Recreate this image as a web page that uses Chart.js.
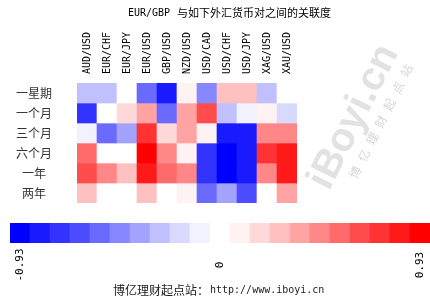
<!DOCTYPE html>
<html lang="zh">
  <head>
    <meta charset="UTF-8" />
    <title>EUR/GBP 关联度</title>
    <script src="https://cdn.jsdelivr.net/npm/chart.js"></script>
    <style>
      body { margin: 0; background: #fff; }
      #wrap { position: relative; width: 430px; height: 300px; overflow: hidden; }
      #heat { position: absolute; left: 0; top: 0; }
      #bar { position: absolute; left: 0; top: 220px; }
    </style>
  </head>
  <body>
    <div id="wrap">
      <canvas id="heat" width="430" height="220"></canvas>
      <canvas id="bar" width="430" height="80"></canvas>
    </div>
    <script>
      // 标题和货币对
      var titleText = "EUR/GBP 与如下外汇货币对之间的关联度";
      var pairs = ["AUD/USD", "EUR/CHF", "EUR/JPY", "EUR/USD", "GBP/USD", "NZD/USD",
                   "USD/CAD", "USD/CHF", "USD/JPY", "XAG/USD", "XAU/USD"];
      var periods = ["一星期", "一个月", "三个月", "六个月", "一年", "两年"];

      // 各期间的相关系数
      var week1  = [-0.27, -0.27, 0, -0.53, -0.80, 0.09, -0.44, 0.27, 0.27, -0.27, 0];
      var month1 = [-0.71, 0, 0.18, 0.35, -0.53, 0.35, 0.62, -0.27, -0.09, 0.09, -0.18];
      var month3 = [-0.09, -0.53, -0.35, 0.71, 0.18, 0.35, 0.09, -0.80, -0.80, 0.44, 0.44];
      var month6 = [0.53, 0, 0, 0.93, 0.44, 0.09, -0.71, -0.93, -0.80, 0.71, 0.80];
      var year1  = [0.62, 0.44, 0.27, 0.80, 0.53, 0.44, -0.71, -0.93, -0.80, 0.44, 0.80];
      var year2  = [0.27, 0, 0, 0.27, 0, 0.09, -0.53, -0.35, -0.62, 0, 0.35];
      var rows = [week1, month1, month3, month6, year1, year2];

      // 色标
      var scaleMin = -0.93;
      var scaleMax = 0.93;
      var colorTicks = ["-0.93", "0", "0.93"];
      var palette = [
        "#0000FF", "#1A1AFF", "#3333FF", "#4D4DFF", "#6A6AFF", "#8787FF", "#A3A3FF",
        "#C0C0FF", "#D9D9FF", "#F2F2FF", "#FFFFFF", "#FFF2F2", "#FFD9D9", "#FFC0C0",
        "#FFA3A3", "#FF8787", "#FF6A6A", "#FF4D4D", "#FF3333", "#FF1A1A", "#FF0000"
      ];

      function levelOf(v) {
        var n = palette.length;
        var i = Math.floor((v - scaleMin) / (scaleMax - scaleMin) * n);
        return Math.max(0, Math.min(n - 1, i));
      }

      var cjk = '"Noto Sans CJK SC", sans-serif';
      var mono = '"DejaVu Sans Mono", monospace';

      // 文字、水印
      var heatText = {
        id: "heatText",
        beforeDatasetsDraw: function (chart) {
          var ctx = chart.ctx;
          ctx.save();
          // 水印
          ctx.translate(354, 117);
          ctx.rotate(-63.4 * Math.PI / 180);
          ctx.fillStyle = "#e2e2e2";
          ctx.font = 'bold 40px "Liberation Sans", sans-serif';
          ctx.textAlign = "center";
          ctx.textBaseline = "middle";
          ctx.fillText("iBoyi.cn", 0, 0);
          ctx.font = "12px " + cjk;
          ctx.fillStyle = "#d6d6d6";
          var wm = "博亿理财起点站";
          for (var k = 0; k < wm.length; k++) {
            ctx.fillText(wm[k], (k - 3) * 19 + 8, 26);
          }
          ctx.restore();
        },
        afterDraw: function (chart) {
          var ctx = chart.ctx;
          var xs = chart.scales.x;
          var ys = chart.scales.y;
          ctx.save();
          // 标题
          ctx.fillStyle = "#000";
          ctx.textBaseline = "middle";
          ctx.textAlign = "left";
          ctx.font = "10px " + mono;
          ctx.fillText("EUR/GBP", 128, 13);
          ctx.font = "11px " + cjk;
          ctx.fillText(titleText.slice(8), 177, 13);
          // 列标签
          ctx.font = "10px " + mono;
          pairs.forEach(function (p, i) {
            ctx.save();
            ctx.translate(xs.getPixelForValue(i), 74);
            ctx.rotate(-Math.PI / 2);
            ctx.textAlign = "left";
            ctx.textBaseline = "middle";
            ctx.fillText(p, 0, 0);
            ctx.restore();
          });
          // 行标签
          ctx.fillStyle = "#333";
          ctx.font = "12px " + cjk;
          ctx.textAlign = "center";
          periods.forEach(function (p, r) {
            ctx.fillText(p, 34, ys.getPixelForValue(r + 0.5));
          });
          ctx.restore();
        }
      };

      var datasets = rows.map(function (vals, r) {
        return {
          label: periods[r],
          data: vals.map(function () { return [r, r + 1]; }),
          backgroundColor: vals.map(function (v) { return palette[levelOf(v)]; }),
          borderWidth: 0,
          borderRadius: 0,
          grouped: false,
          barPercentage: 1,
          categoryPercentage: 1
        };
      });

      new Chart(document.getElementById("heat"), {
        type: "bar",
        data: { labels: pairs, datasets: datasets },
        options: {
          responsive: false,
          animation: false,
          devicePixelRatio: 1,
          layout: { padding: { left: 77, right: 133, top: 83, bottom: 17 } },
          scales: {
            x: { display: false, offset: true },
            y: { display: false, min: 0, max: 6, reverse: true }
          },
          plugins: { legend: { display: false }, tooltip: { enabled: false } }
        },
        plugins: [heatText]
      });

      // 色标条
      var barLabels = palette.map(function (c, i) { return i; });
      var barText = {
        id: "barText",
        afterDraw: function (chart) {
          var ctx = chart.ctx;
          var xs = chart.scales.x;
          var n = palette.length - 1;
          var pos = [0, n / 2, n];
          ctx.save();
          ctx.fillStyle = "#000";
          ctx.font = "11px " + mono;
          ctx.textAlign = "center";
          ctx.textBaseline = "middle";
          colorTicks.forEach(function (t, i) {
            ctx.save();
            ctx.translate(xs.getPixelForValue(pos[i]), 45);
            ctx.rotate(-Math.PI / 2);
            ctx.fillText(t, 0, 0);
            ctx.restore();
          });
          // 底部文字
          ctx.fillStyle = "#222";
          ctx.textAlign = "left";
          ctx.font = "12px " + cjk;
          ctx.fillText("博亿理财起点站：", 113, 70);
          ctx.font = "10px " + mono;
          ctx.fillText("http://www.iboyi.cn", 210, 70);
          ctx.restore();
        }
      };

      new Chart(document.getElementById("bar"), {
        type: "bar",
        data: {
          labels: barLabels,
          datasets: [{
            data: palette.map(function () { return [0, 1]; }),
            backgroundColor: palette,
            borderWidth: 0,
            barPercentage: 1,
            categoryPercentage: 1
          }]
        },
        options: {
          responsive: false,
          animation: false,
          devicePixelRatio: 1,
          layout: { padding: { left: 10, right: 0, top: 3, bottom: 57 } },
          scales: {
            x: { display: false, offset: true },
            y: { display: false, min: 0, max: 1 }
          },
          plugins: { legend: { display: false }, tooltip: { enabled: false } }
        },
        plugins: [barText]
      });
    </script>
  </body>
</html>
